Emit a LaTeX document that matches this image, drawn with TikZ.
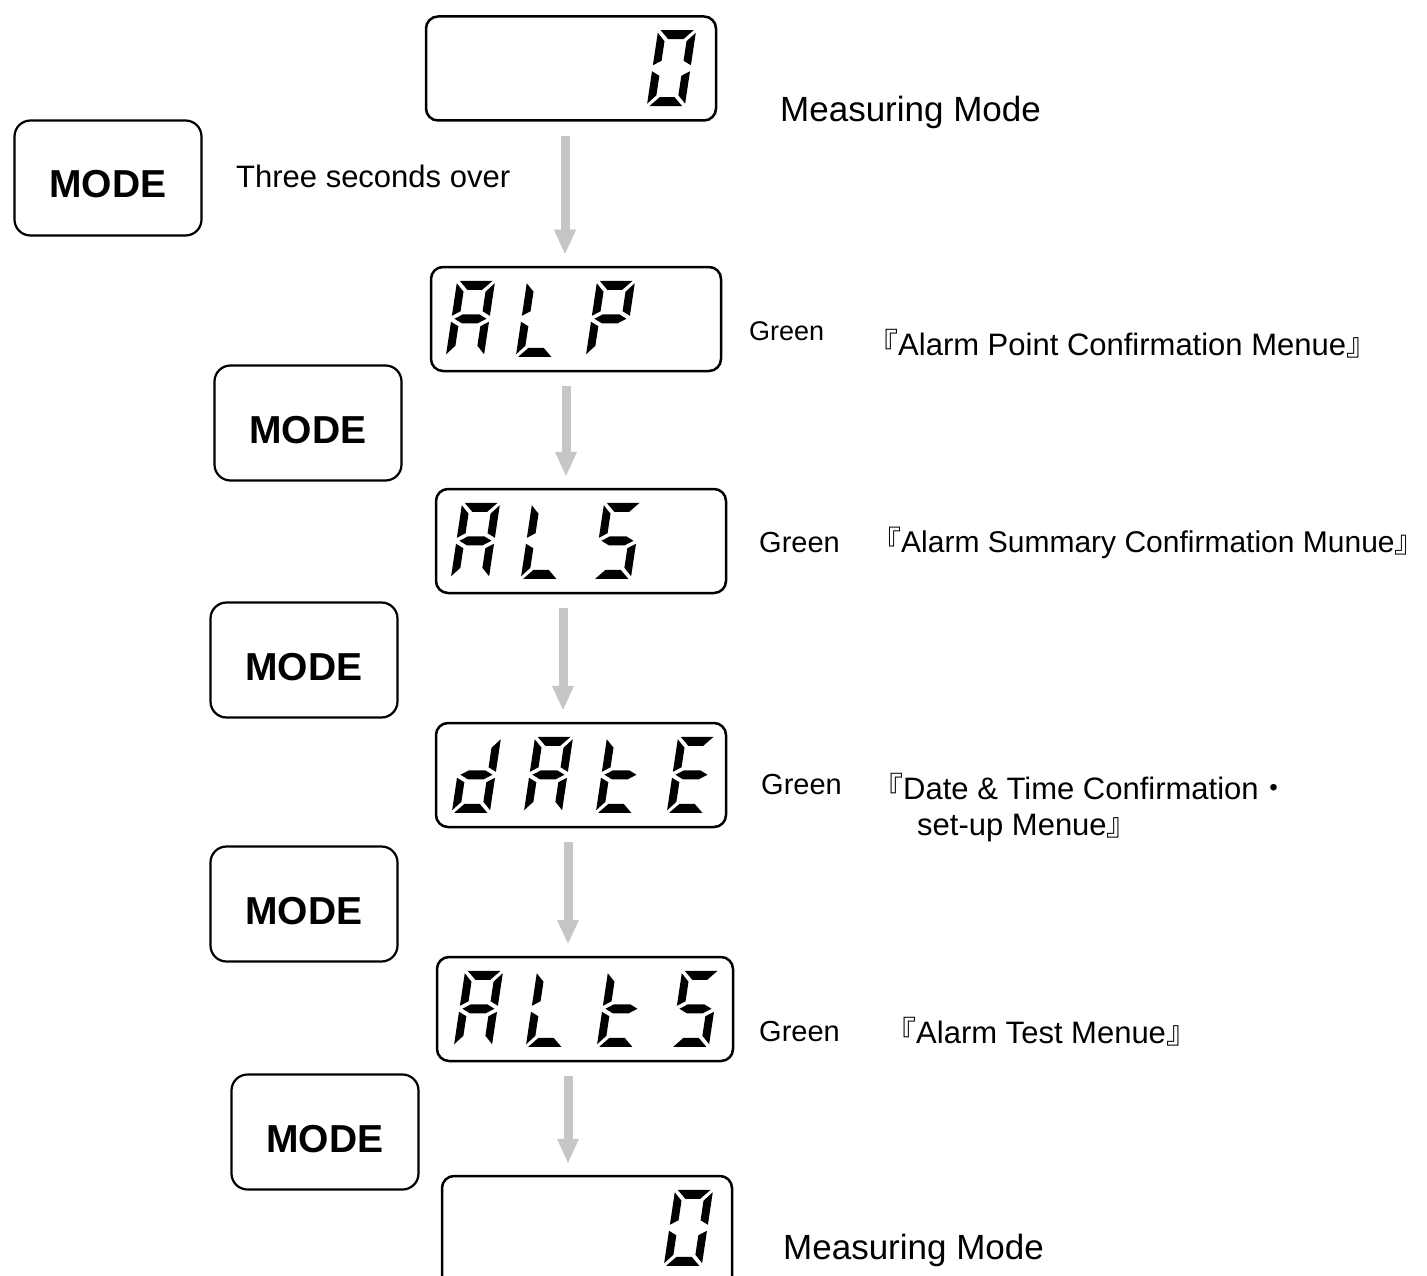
\documentclass[tikz,border=0pt]{standalone}
\usepackage{fontspec}
\setmainfont{Liberation Sans}
\newfontfamily\cjk{Noto Sans CJK JP}
\usetikzlibrary{arrows.meta,calc}

% segments of one seven-segment digit (local units, y upwards)
\def\sgA{(2.5,76) -- (35.5,76) -- (26.5,67) -- (11.5,67) -- cycle}
\def\sgB{(38,41) -- (38,73.5) -- (30,65) -- (30,45.5) -- cycle}
\def\sgC{(38,2.5) -- (38,35) -- (30,30.5) -- (30,11) -- cycle}
\def\sgD{(2.5,0) -- (35.5,0) -- (26.5,9) -- (11.5,9) -- cycle}
\def\sgE{(0,2.5) -- (0,35) -- (8,30.5) -- (8,11) -- cycle}
\def\sgF{(0,41) -- (0,73.5) -- (8,65) -- (8,45.5) -- cycle}
\def\sgG{(3,38) -- (11,42.5) -- (27,42.5) -- (35,38) -- (27,33.5) -- (11,33.5) -- cycle}

% #1 display node, #2 offset from its left edge, #3 segments
\newcommand{\segdigit}[3]{%
  \begin{scope}[shift={($(#1.north west)+(#2,91)$)}, x=1pt, y=1pt, xslant=0.15]
    \foreach \s in {#3}{\expandafter\fill\csname sg\s\endcsname;}
  \end{scope}}

\tikzset{
  dispbox/.style={draw, line width=2.5pt, rounded corners=12pt, minimum width=290pt,
    minimum height=104pt, inner sep=0pt},
  modebtn/.style={draw, line width=2.2pt, rounded corners=16pt, minimum width=187pt,
    minimum height=115pt, text height=40pt, text depth=0pt,
    font=\fontsize{39}{44}\selectfont\bfseries},
  flowarrow/.style={draw=gray!45, line width=9pt,
    -{Triangle[length=24pt,width=22pt,line width=0.5pt]}, shorten <=14pt, shorten >=12pt},
  lbl/.style={anchor=west, inner sep=0pt, font=\fontsize{31}{36}\selectfont},
}

\begin{document}
\begin{tikzpicture}[x=1pt, y=-1pt]
  \useasboundingbox (0,0) rectangle (1427,1276);

  % displays
  \node[dispbox] (meas0) at (571,68.5) {};
  \node[dispbox] (alp) at (576,319) {};
  \node[dispbox] (als) at (581,541) {};
  \node[dispbox] (date) at (581,775) {};
  \node[dispbox, minimum width=296pt] (alts) at (585,1009) {};
  \node[dispbox, minimum height=130pt] (meas1) at (587,1241) {};

  % digits
  \segdigit{meas0}{222}{A,B,C,D,E,F}
  \segdigit{alp}{16}{A,B,C,E,F,G}
  \segdigit{alp}{86}{D,E,F}
  \segdigit{alp}{156}{A,B,E,F,G}
  \segdigit{als}{16}{A,B,C,E,F,G}
  \segdigit{als}{86}{D,E,F}
  \segdigit{als}{158}{A,F,G,C,D}
  \segdigit{date}{17}{B,C,D,E,G}
  \segdigit{date}{89}{A,B,C,E,F,G}
  \segdigit{date}{161}{D,E,F,G}
  \segdigit{date}{232}{A,D,E,F,G}
  \segdigit{alts}{18}{A,B,C,E,F,G}
  \segdigit{alts}{90}{D,E,F}
  \segdigit{alts}{161}{D,E,F,G}
  \segdigit{alts}{235}{A,F,G,C,D}
  \segdigit{meas1}{223}{A,B,C,D,E,F}

  % MODE keys
  \node[modebtn] (mode1) at (108,178) {MODE};
  \node[modebtn] (mode2) at (308,423) {MODE};
  \node[modebtn] (mode3) at (304,660) {MODE};
  \node[modebtn] (mode4) at (304,904) {MODE};
  \node[modebtn] (mode5) at (325,1132) {MODE};

  % arrows
  \foreach \a/\b/\dx in {meas0/alp/-6, alp/als/-10, als/date/-18, date/alts/-13, alts/meas1/-17}
    \draw[flowarrow] ([xshift=\dx pt]\a.south) -- ([xshift=\dx pt]\a.south |- \b.north);

  % texts
  \node[lbl, font=\fontsize{35}{40}\selectfont] (tmeas0) at (780,112) {Measuring Mode};
  \node[lbl, font=\fontsize{31}{36}\selectfont] (tthree) at (236,176) {Three seconds over};
  \node[lbl, font=\fontsize{27}{32}\selectfont] (galp) at (749,331) {Green};
  \node[lbl, font=\fontsize{29}{34}\selectfont] (gals) at (759,543) {Green};
  \node[lbl, font=\fontsize{29}{34}\selectfont] (gdate) at (761,785) {Green};
  \node[lbl, font=\fontsize{29}{34}\selectfont] (galts) at (759,1032) {Green};
  \node[lbl] (talp) at (867,344) {{\cjk 『}Alarm Point Confirmation Menue{\cjk 』}};
  \node[lbl, font=\fontsize{30}{36}\selectfont] (tals) at (871,543)
    {{\cjk 『}Alarm Summary Confirmation Munue{\cjk 』}};
  \node[lbl, align=left] (tdate) at (872,808)
    {{\cjk 『}Date \& Time Confirmation{\cjk ・}\\\hspace*{45pt}set-up Menue{\cjk 』}};
  \node[lbl] (talts) at (885,1032) {{\cjk 『}Alarm Test Menue{\cjk 』}};
  \node[lbl, font=\fontsize{35}{40}\selectfont] (tmeas1) at (783,1250) {Measuring Mode};
\end{tikzpicture}
\end{document}
